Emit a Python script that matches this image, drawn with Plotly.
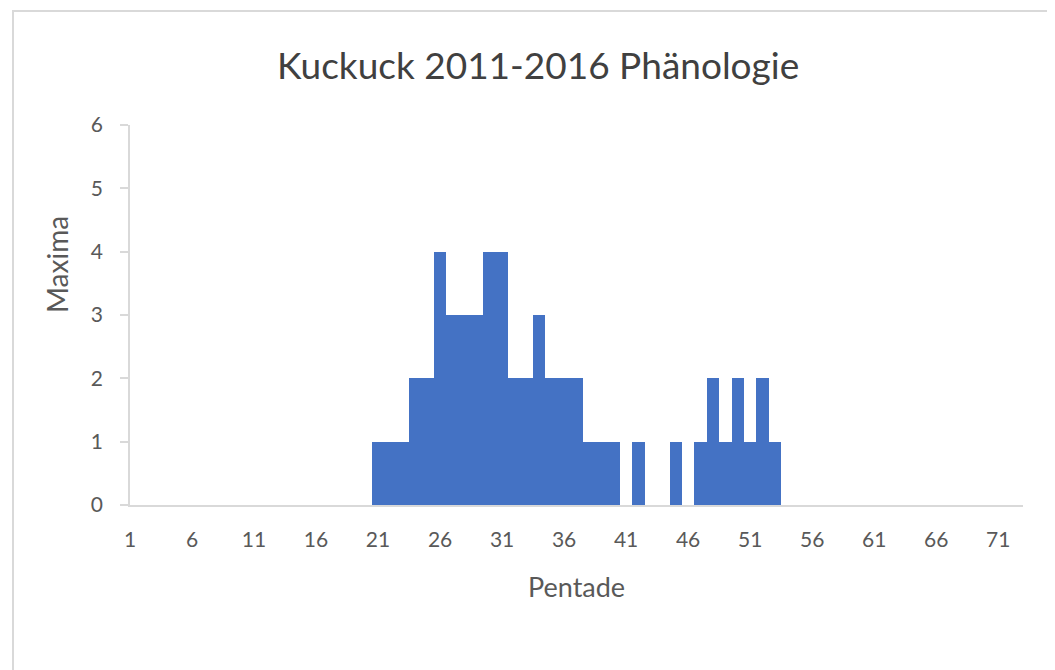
import plotly.graph_objects as go

pentads = list(range(1, 74))
maxima = [0]*20 + [1, 1, 1, 2, 2, 4, 3, 3, 3, 4, 4, 2, 2, 3, 2, 2, 2, 1, 1, 1,
                   0, 1, 0, 0, 1, 0, 1, 2, 1, 2, 1, 2, 1] + [0]*20
tick_labels = [str(v) for v in range(1, 72, 5)]

title = "Kuckuck 2011-2016 Phänologie"
x_title = "Pentade"
y_title = "Maxima"

OFF = 8  # page body margin
W, H = 1055 - OFF, 670 - OFF
# target pixel positions in the window
PL, PR, PT, PB = 130, 1023, 125, 505
L, T = PL - OFF, PT - OFF
R, B = W - (PR - OFF), H - (PB - OFF)
pw, ph = W - L - R, H - T - B

def px(x):
    return (x - OFF - L) / pw

def py(y):
    return (H - B - (y - OFF)) / ph

FONT = "Lato"
TXT = "#595959"

fig = go.Figure(go.Bar(x=pentads, y=maxima, width=1.0, marker=dict(color="#4472C4", line=dict(width=0)),
                       showlegend=False))

fig.update_layout(
    width=W, height=H,
    margin=dict(l=L, r=R, t=T, b=B, autoexpand=False),
    paper_bgcolor="white", plot_bgcolor="white",
    bargap=0,
    font=dict(family=FONT, color=TXT, size=21),
    xaxis=dict(range=[1, 73], tickmode="array", tickvals=[int(t) for t in tick_labels], ticktext=tick_labels,
               showgrid=False, zeroline=False, showline=True, linecolor="#D9D9D9", linewidth=1.5,
               ticks="", tickfont=dict(size=21, color=TXT, family=FONT), ticklabelstandoff=15),
    yaxis=dict(range=[0, 6], tickvals=[0, 1, 2, 3, 4, 5, 6], showgrid=False, zeroline=False,
               showline=True, linecolor="#D9D9D9", linewidth=1.5, ticks="outside", ticklen=8,
               tickcolor="#D9D9D9", tickwidth=1.5, tickfont=dict(size=21, color=TXT, family=FONT),
               ticklabelstandoff=13),
    annotations=[
        dict(text=title, xref="paper", yref="paper", x=px(538), y=py(65), showarrow=False,
             font=dict(size=37, color="#404040", family=FONT), xanchor="center", yanchor="middle"),
        dict(text=x_title, xref="paper", yref="paper", x=px(576), y=py(586), showarrow=False,
             font=dict(size=27, color=TXT, family=FONT), xanchor="center", yanchor="middle"),
        dict(text=y_title, xref="paper", yref="paper", x=px(57), y=py(265), showarrow=False, textangle=-90,
             font=dict(size=28, color=TXT, family=FONT), xanchor="center", yanchor="middle"),
    ],
    shapes=[
        dict(type="rect", xref="paper", yref="paper", x0=px(13), x1=px(1075), y0=py(700), y1=py(11),
             line=dict(color="#D9D9D9", width=2), fillcolor="rgba(0,0,0,0)", layer="below"),
    ],
)

fig.write_html("out.html")
